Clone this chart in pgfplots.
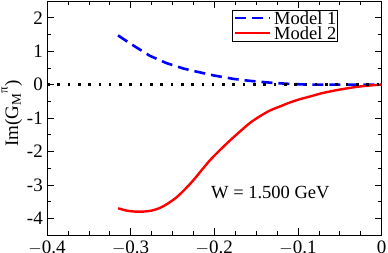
\documentclass[border=0pt]{standalone}
\usepackage{pgfplots}
\pgfplotsset{compat=1.18}
\usepackage{fontspec}
\setmainfont{Liberation Serif}
\newcommand{\bigf}{\fontsize{19}{20}\selectfont}
\newcommand{\legf}{\fontsize{18.5}{19}\selectfont}
\begin{document}
\begin{tikzpicture}
\begin{axis}[
  name=ax, at={(0,0)}, anchor=south west,
  scale only axis, width=334.6pt, height=234pt,
  xmin=-0.4, xmax=0, ymin=-4.5, ymax=2.5,
  xtick={-0.4,-0.3,-0.2,-0.1,0},
  xticklabels={$-$0.4,$-$0.3,$-$0.2,$-$0.1,0},
  ytick={-4,-3,-2,-1,0,1,2},
  yticklabels={-4,-3,-2,-1,0,1,2},
  minor x tick num=3, minor y tick num=1,
  tick align=inside, major tick length=7pt, minor tick length=4pt,
  xtick pos=both, ytick pos=both,
  tick style={black, line width=0.6pt},
  axis line style={line width=0.8pt},
  ticklabel style={font=\bigf},
  xticklabel style={anchor=north, inner sep=0pt, yshift=-6pt},
  yticklabel style={anchor=east, inner sep=0pt, xshift=-4pt},
  ylabel={Im(G\textsubscript{M}\raisebox{1.2ex}{\fontsize{13}{14}\selectfont π})},
  ylabel style={font=\bigf, at={(axis description cs:-0.105,0.52)}, anchor=center},
  legend style={at={(0.552,0.962)}, anchor=north west, draw=black, line width=0.6pt,
     font=\legf, inner sep=1.5pt, row sep=2pt, column sep=3pt,
     nodes={inner sep=0pt, text height=12.5pt, text depth=0.5pt},
     legend cell align=left},
  legend image code/.code={\draw[#1] (0pt,0pt) -- (35pt,0pt);},
]
\addplot[blue, line width=2.6pt, dash pattern=on 11pt off 6pt] coordinates {
(-0.315,1.47)(-0.300,1.22)(-0.277,0.86)(-0.257,0.64)(-0.237,0.48)(-0.220,0.38)(-0.200,0.27)
(-0.177,0.17)(-0.157,0.11)(-0.130,0.05)(-0.110,0.02)(-0.090,0.0)(-0.060,0.0)(0,0.0)};
\addlegendentry{Model 1}
\addplot[red, line width=2.4pt, smooth] coordinates {
(-0.315,-3.70)(-0.305,-3.77)(-0.295,-3.80)(-0.285,-3.80)(-0.275,-3.77)(-0.265,-3.69)
(-0.255,-3.55)(-0.245,-3.37)(-0.235,-3.13)
(-0.225,-2.86)(-0.205,-2.26)(-0.185,-1.76)(-0.170,-1.42)(-0.157,-1.14)(-0.145,-0.94)
(-0.133,-0.77)(-0.120,-0.64)(-0.110,-0.54)(-0.098,-0.44)(-0.086,-0.36)(-0.070,-0.25)
(-0.050,-0.15)(-0.030,-0.07)(-0.015,-0.03)(0,0)};
\addlegendentry{Model 2}
\addplot[black, line width=2.6pt, dash pattern=on 2.6pt off 7.7pt, forget plot] coordinates {(-0.4,0)(0,0)};
\node[font=\legf] at (axis cs:-0.133,-3.22) {W = 1.500 GeV};
\end{axis}
\pgfresetboundingbox
\path (-47pt,-18pt) rectangle (341pt,235pt);
\end{tikzpicture}
\end{document}
